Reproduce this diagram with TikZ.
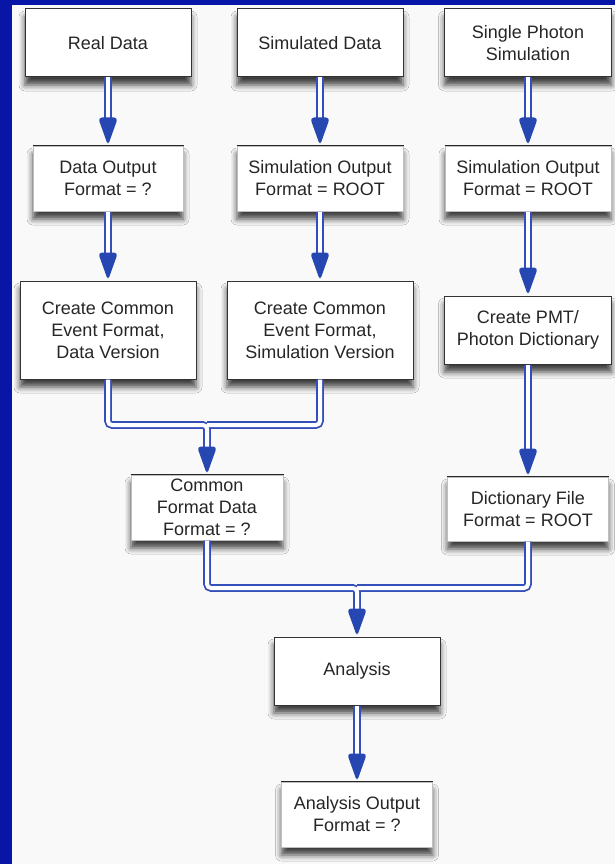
\documentclass[tikz,border=0pt]{standalone}
\usepackage{fontspec}
\setmainfont{Liberation Sans}
\usepackage{tikz}
\usetikzlibrary{
  calc,                 % 坐标计算
  decorations.markings, % 管道末端的三角箭头
  shadows.blur          % 方框下的模糊阴影
}
\definecolor{bandblue}{RGB}{8,22,168}
\definecolor{pipeblue}{RGB}{52,78,186}
\definecolor{headblue}{RGB}{38,70,178}
\definecolor{paper}{RGB}{249,249,249}

\tikzset{
  box/.style={draw=black!80, line width=1pt, fill=white, text=black!85,
    align=center, inner sep=0pt, font=\fontsize{18}{22}\selectfont,
    blur shadow={shadow xshift=0pt, shadow yshift=-8pt,
      shadow blur radius=6pt, shadow opacity=75}},
  fmtbox/.style={box, draw=black!25},
  pipe/.style={draw=pipeblue, line width=1.8pt, double=white,
    double distance=4pt, rounded corners=4pt, shorten >=12pt,
    postaction={decorate, decoration={markings,
      mark=at position 1 with {\fill[headblue] (0,0) -- (-28pt,10pt) -- (-28pt,-10pt) -- cycle;}}}},
}

\begin{document}
\begin{tikzpicture}[x=1pt, y=-1pt]
    % 背景与左上蓝边
    \useasboundingbox (0,0) rectangle (615,864);
    \fill[paper] (0,0) rectangle (615,864);
    \fill[bandblue] (0,0) rectangle (12,864);
    \fill[bandblue] (0,0) rectangle (615,5);

    % 第一行：数据来源
    \node[box, minimum width=166pt, minimum height=68pt] (rdat) at (108,43) {Real Data};
    \node[box, minimum width=166pt, minimum height=68pt] (sdat) at (320,43) {Simulated Data};
    \node[box, minimum width=167pt, minimum height=68pt] (spho) at (528,43) {Single Photon\\Simulation};

    % 第二行：输出格式
    \node[fmtbox, minimum width=150pt, minimum height=65pt] (dout) at (108,178.5) {Data Output\\Format = ?};
    \node[fmtbox, minimum width=166pt, minimum height=65pt] (sout) at (320,178.5) {Simulation Output\\Format = ROOT};
    \node[fmtbox, minimum width=166pt, minimum height=65pt] (pout) at (528,178.5) {Simulation Output\\Format = ROOT};

    % 第三行：转换步骤
    \node[box, minimum width=176pt, minimum height=98pt] (cdat) at (108,330) {Create Common\\Event Format,\\Data Version};
    \node[box, minimum width=186pt, minimum height=98pt] (csim) at (320,330) {Create Common\\Event Format,\\Simulation Version};
    \node[box, minimum width=167pt, minimum height=68pt] (cpmt) at (528,330) {Create PMT/\\Photon Dictionary};

    % 第四行：中间文件
    \node[fmtbox, minimum width=152pt, minimum height=65pt] (cfd) at (207,507.5) {Common\\Format Data\\Format = ?};
    \node[fmtbox, minimum width=161pt, minimum height=64pt] (dict) at (528,509) {Dictionary File\\Format = ROOT};

    % 分析与结果
    \node[box, minimum width=166pt, minimum height=68pt] (ana) at (357,671) {Analysis};
    \node[fmtbox, minimum width=151pt, minimum height=65pt] (aout) at (357,814.5) {Analysis Output\\Format = ?};

    % 输出框只有上边是深色
    \foreach \n in {dout,sout,pout,cfd,dict,aout}
      \draw[black!85, line width=1.2pt] (\n.north west) -- (\n.north east);

    % 竖直管道
    \draw[pipe] (rdat.south) -- (dout.north);
    \draw[pipe] (sdat.south) -- (sout.north);
    \draw[pipe] (spho.south) -- (pout.north);
    \draw[pipe] (dout.south) -- (cdat.north);
    \draw[pipe] (sout.south) -- (csim.north);
    \draw[pipe] (pout.south) -- (cpmt.north);
    \draw[pipe] (cpmt.south) -- (dict.north);
    \draw[pipe] (ana.south) -- (aout.north);

    % 汇合管道
    \coordinate (j1) at (207,425);
    \coordinate (j2) at (357,588);
    \draw[pipe] (csim.south) |- (j1) (cdat.south) |- (j1) -- (cfd.north);
    \draw[pipe] (dict.south) |- (j2) (cfd.south) |- (j2) -- (ana.north);
\end{tikzpicture}
\end{document}
